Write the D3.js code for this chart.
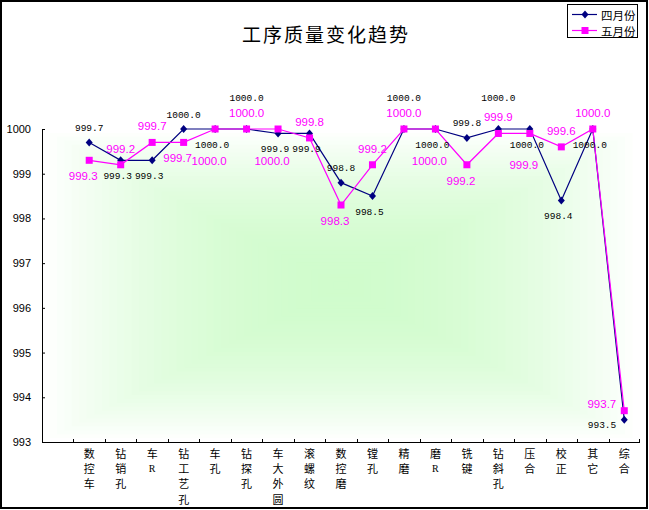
<!DOCTYPE html>
<html><head><meta charset="utf-8">
<script src="https://cdn.jsdelivr.net/npm/d3@7"></script>
<style>html,body{margin:0;padding:0;background:#fff;}svg{display:block;}</style>
</head><body>
<svg id="c" width="649" height="510"></svg>
<script>
// ---- data ----
const categories = ["数控车","钻销孔","车R","钻工艺孔","车孔","钻探孔","车大外圆","滚螺纹","数控磨","镗孔","精磨","磨R","铣键","钻斜孔","压合","校正","其它","综合"];
const aprilValues = [999.7,999.3,999.3,1000.0,1000.0,1000.0,999.9,999.9,998.8,998.5,1000.0,1000.0,999.8,1000.0,1000.0,998.4,1000.0,993.5];
const mayValues   = [999.3,999.2,999.7,999.7,1000.0,1000.0,1000.0,999.8,998.3,999.2,1000.0,1000.0,999.2,999.9,999.9,999.6,1000.0,993.7];
const seriesNames = ["四月份","五月份"];
const yTicks = [993,994,995,996,997,998,999,1000];
// label placement codes: a=above, A=high above, b=below, B=low below, L=left-below, U=left-above
const aprilLabelPos = ["a","b","b","a","b","A","b","b","a","b","A","b","a","A","b","b","b","L"];
const mayLabelPos   = ["b","a","a","b","B","a","B","a","b","a","a","B","b","a","B","a","a","U"];
const title = "工序质量变化趋势";

const svg = d3.select("#c");
const plot = {x0:42, x1:640, y0:129, y1:442};

// outer border
svg.append("rect").attr("x",1).attr("y",1).attr("width",646).attr("height",507)
  .attr("fill","#fff").attr("stroke","#000").attr("stroke-width",2);

// scales (reference leaves an empty first slot on the category axis)
const x = d3.scaleBand().domain(["", ...categories]).range([plot.x0, plot.x1]).paddingInner(0).paddingOuter(0);
const cx = c => x(c) + x.bandwidth()/2;
const y = d3.scaleLinear().domain([993,1000]).range([plot.y1, plot.y0]);

// plot background: rectangular centre gradient
const N = 40;
const hw = (plot.x1-plot.x0)/2, hh = (plot.y1-plot.y0)/2;
const mx = (plot.x0+plot.x1)/2, my = (plot.y0+plot.y1)/2;
const ci = d3.interpolateRgb("#ffffff","#d0fccc");
const bg = svg.append("g");
for (let i=0;i<N;i++){
  const t = i/N;
  const e = 1-(1-t)*(1-t);
  bg.append("rect")
    .attr("x", mx - hw*(1-t)).attr("y", my - hh*(1-t))
    .attr("width", 2*hw*(1-t)).attr("height", 2*hh*(1-t))
    .attr("fill", ci(e));
}

// title
svg.append("text").attr("x",326).attr("y",42).attr("text-anchor","middle")
  .attr("font-family","'Noto Sans CJK SC', sans-serif").attr("font-size",19)
  .attr("letter-spacing",2).attr("fill","#000").text(title);

// y axis
const yAxis = d3.axisLeft(y).tickValues(yTicks).tickFormat(d3.format("d")).tickSize(-3).tickPadding(11);
const ga = svg.append("g").attr("transform",`translate(${plot.x0},0)`).call(yAxis);
ga.select(".domain").attr("stroke","#000").attr("d",`M0.5,${plot.y0}V${plot.y1}`);
ga.selectAll(".tick line").attr("stroke","#000");
ga.selectAll(".tick text").attr("font-family","'Liberation Sans', Arial, sans-serif").attr("font-size",11).attr("fill","#000");

// x axis line and boundary ticks
const gx = svg.append("g");
gx.append("line").attr("x1",plot.x0).attr("x2",plot.x1).attr("y1",plot.y1+0.5).attr("y2",plot.y1+0.5).attr("stroke","#000");
x.domain().slice(1).forEach(c=>{
  gx.append("line").attr("x1",Math.round(x(c))+0.5).attr("x2",Math.round(x(c))+0.5)
    .attr("y1",plot.y1-3).attr("y2",plot.y1).attr("stroke","#000");
});
gx.append("line").attr("x1",plot.x1-0.5).attr("x2",plot.x1-0.5).attr("y1",plot.y1-3).attr("y2",plot.y1).attr("stroke","#000");
// vertical category labels: one text per character
categories.forEach(c=>{
  Array.from(c).forEach((ch,k)=>{
    const latin = /[A-Za-z]/.test(ch);
    gx.append("text").attr("x",cx(c)).attr("y",plot.y1+11+k*15.2)
      .attr("dominant-baseline","central")
      .attr("font-family", latin ? "'Liberation Serif', serif" : "'Noto Sans CJK SC', sans-serif")
      .attr("font-size", latin ? 10 : 11)
      .attr("text-anchor","middle").attr("fill","#000").text(ch);
  });
});

// series
const series = [
  {name:seriesNames[0], values:aprilValues, color:"#000080", marker:"diamond", pos:aprilLabelPos, lab:"#000"},
  {name:seriesNames[1], values:mayValues, color:"#ff00ff", marker:"square", pos:mayLabelPos, lab:"#ff00ff"}
];
const line = d3.line().x((d,i)=>cx(categories[i])).y(d=>y(d));
series.forEach(s=>{
  svg.append("path").datum(s.values).attr("d",line).attr("fill","none")
    .attr("stroke",s.color).attr("stroke-width",1.2);
});
function drawMarker(g, type, px, py, color){
  if(type==="diamond"){
    g.append("path").attr("d","M0,-4L3.5,0L0,4L-3.5,0Z").attr("transform",`translate(${px},${py})`).attr("fill",color);
  } else {
    g.append("rect").attr("x",px-3.5).attr("y",py-3.5).attr("width",7).attr("height",7).attr("fill",color);
  }
}
series.forEach(s=>{
  const g = svg.append("g");
  s.values.forEach((v,i)=>drawMarker(g, s.marker, cx(categories[i]), y(v), s.color));
});

// data labels
const offs = {a:[0,-14], A:[0,-31], b:[0,16], B:[0,32], L:[-8,6], U:[-8,-7]};
series.forEach((s,si)=>{
  const g = svg.append("g");
  s.values.forEach((v,i)=>{
    const p = s.pos[i]; const o = offs[p];
    let dy = o[1], dx = o[0];
    if(si===1 && p==="a") dy = -16;
    if(si===0 && p==="b") dx = -3;
    if(si===1 && (p==="b"||p==="B")) dx = -6;
    const left = (p==="L"||p==="U");
    g.append("text")
      .attr("x", cx(categories[i]) + dx).attr("y", y(v)+dy)
      .attr("dominant-baseline","central")
      .attr("text-anchor", left?"end":"middle")
      .attr("font-family", si===0 ? "'Liberation Mono', monospace" : "'Liberation Sans', Arial, sans-serif")
      .attr("font-size", si===0 ? 9.5 : 11.5)
      .attr("fill", s.lab).text(d3.format(".1f")(v));
  });
});

// legend
const lg = svg.append("g");
lg.append("rect").attr("x",567.5).attr("y",4.5).attr("width",70).attr("height",33).attr("fill","#fff").attr("stroke","#000");
series.forEach((s,i)=>{
  const ly = 14 + i*16;
  lg.append("line").attr("x1",572).attr("x2",597).attr("y1",ly+0.5).attr("y2",ly+0.5).attr("stroke",s.color).attr("stroke-width",1.2);
  drawMarker(lg, s.marker, 585, ly+0.5, s.color);
  lg.append("text").attr("x",601).attr("y",ly+1).attr("dominant-baseline","central")
    .attr("font-family","'Noto Sans CJK SC', sans-serif").attr("font-size",11.5).attr("fill","#000").text(s.name);
});
</script>
</body></html>
